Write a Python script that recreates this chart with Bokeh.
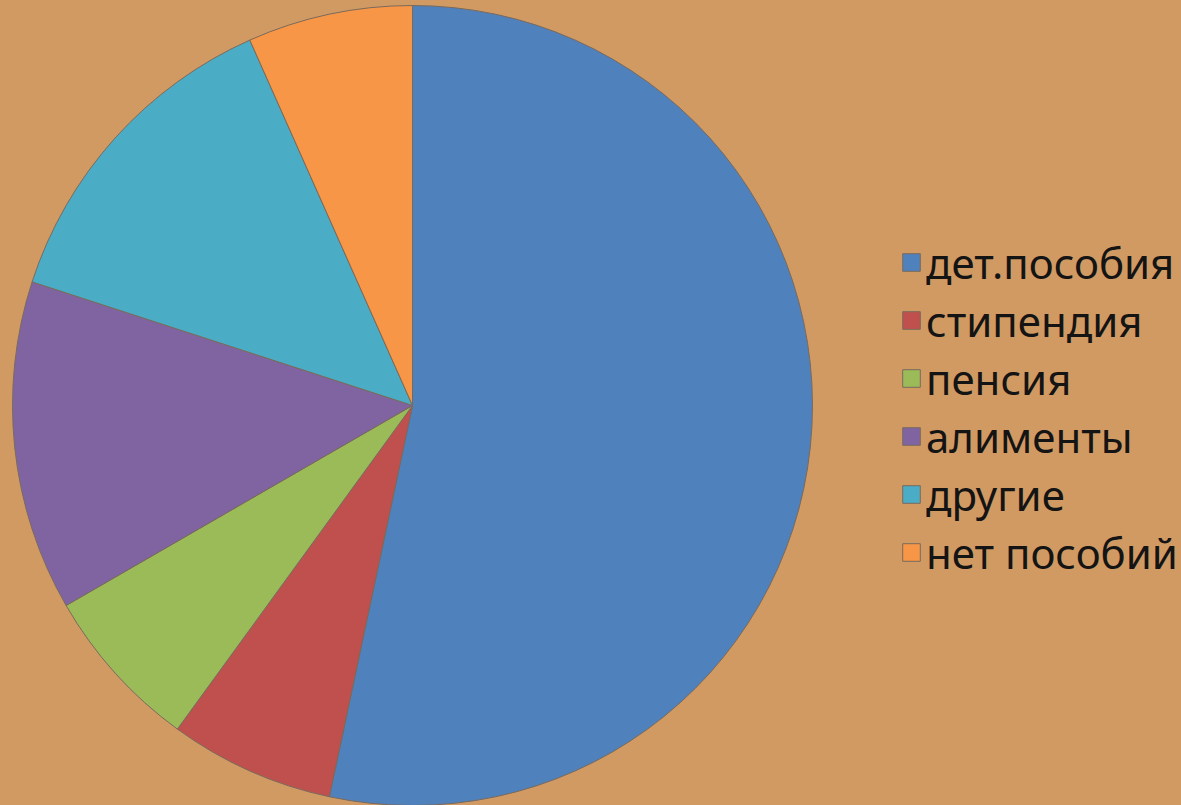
import math
from bokeh.plotting import figure
from bokeh.models import ColumnDataSource, Range1d, Legend, LegendItem
from bokeh.embed import file_html
from bokeh.resources import INLINE

categories = ["дет.пособия", "стипендия", "пенсия", "алименты", "другие", "нет пособий"]
values = [8, 1, 1, 2, 2, 1]
colors = ["#4F81BD", "#C0504D", "#9BBB59", "#8064A2", "#4BACC6", "#F79646"]

BG = "#D29A63"
W, H = 1181, 805

total = sum(values)
starts, ends = [], []
cum = 0.0
for v in values:
    a0 = math.pi / 2 - 2 * math.pi * cum / total
    cum += v
    a1 = math.pi / 2 - 2 * math.pi * cum / total
    starts.append(a1)
    ends.append(a0)

src = ColumnDataSource(dict(cat=categories, val=values, color=colors,
                            start=starts, end=ends))

p = figure(width=W, height=H, output_backend="svg", toolbar_location=None,
           x_range=Range1d(0, W), y_range=Range1d(805 - H, 805),
           min_border=0, background_fill_color=BG, border_fill_color=BG,
           outline_line_color=None)
p.axis.visible = False
p.grid.visible = False

r = p.wedge(x=412, y=400, radius=400, start_angle="start", end_angle="end",
            direction="anticlock", fill_color="color", line_color="#7a6a5c",
            line_width=1, source=src)

legend = Legend(items=[LegendItem(label=c, renderers=[r], index=i)
                       for i, c in enumerate(categories)],
                location=(900, 224))
legend.glyph_width = 22
legend.glyph_height = 22
legend.label_height = 58
legend.spacing = 0
legend.padding = 0
legend.margin = 0
legend.label_standoff = 4
legend.label_text_font = "Noto Sans"
legend.label_text_font_size = "42px"
legend.label_text_color = "#141414"
legend.background_fill_alpha = 0
legend.border_line_alpha = 0
p.add_layout(legend, "center")

html = file_html(p, INLINE)
html = html.replace("<head>", "<head><style>html,body{background:%s;margin:0;overflow:hidden;}</style>" % BG, 1)
open("out.html", "w").write(html)
